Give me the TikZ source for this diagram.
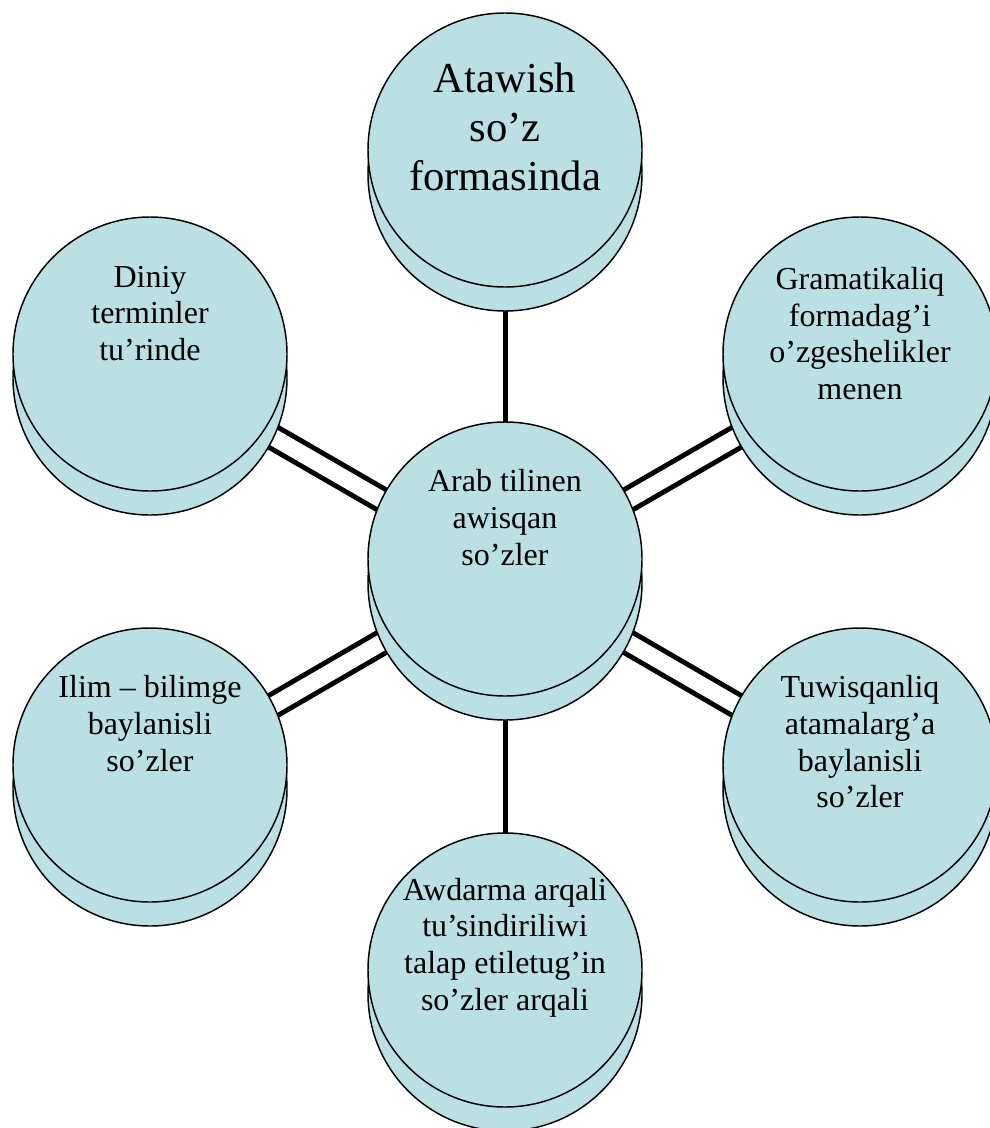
\documentclass[tikz,border=0pt]{standalone}
\usepackage{fontspec}
\setmainfont{Liberation Serif}
\usetikzlibrary{positioning,shadows,backgrounds}
\definecolor{discblue}{RGB}{187,224,227}
\tikzset{
  disc/.style={circle, draw, line width=1.1pt, fill=discblue, minimum size=205.5pt, inner sep=0pt,
    copy shadow={shadow xshift=0pt, shadow yshift=-18pt, draw, fill=discblue, line width=1.1pt}},
  disctext/.style={align=center, inner sep=0pt, font=\fontsize{24}{27.5}\selectfont},
  link/.style={line width=3.75pt},
  twolink/.style={double, double distance=12.5pt, line width=3.75pt}
}
\begin{document}
\begin{tikzpicture}[x=0.75pt, y=-0.75pt]
	\useasboundingbox (0,0) rectangle (989,1128);

	\node[disc] (atawish) at (505, 150) {};
	\node[disc] (diniy) at (150, 354) {};
	\node[disc] (gram) at (860, 354) {};
	\node[disc] (arab) at (505, 559) {};
	\node[disc] (ilim) at (150, 765) {};
	\node[disc] (tuwis) at (860, 765) {};
	\node[disc] (awdarma) at (505, 970) {};

	\node[disctext, font=\fontsize{32}{36.8}\selectfont, below=38pt of atawish.north] (atawishT) {Atawish\\so’z\\formasinda};
	\node[disctext, below=37pt of diniy.north] (diniyT) {Diniy\\terminler\\tu’rinde};
	\node[disctext, below=38pt of gram.north] (gramT) {Gramatikaliq\\formadag’i\\o’zgeshelikler\\menen};
	\node[disctext, below=36pt of arab.north] (arabT) {Arab tilinen\\awisqan\\so’zler};
	\node[disctext, below=36pt of ilim.north] (ilimT) {Ilim – bilimge\\baylanisli\\so’zler};
	\node[disctext, below=36pt of tuwis.north] (tuwisT) {Tuwisqanliq\\atamalarg’a\\baylanisli\\so’zler};
	\node[disctext, below=34pt of awdarma.north] (awdarmaT) {Awdarma arqali\\tu’sindiriliwi\\talap etiletug’in\\so’zler arqali};

	\begin{scope}[on background layer]
		\path ([yshift=-9pt]arab.center) edge[link] ([yshift=-9pt]atawish.center)
		([yshift=-9pt]arab.center) edge[link] ([yshift=-9pt]awdarma.center)
		([yshift=-9pt]arab.center) edge[twolink] ([yshift=-9pt]diniy.center)
		([yshift=-9pt]arab.center) edge[twolink] ([yshift=-9pt]gram.center)
		([yshift=-9pt]arab.center) edge[twolink] ([yshift=-9pt]ilim.center)
		([yshift=-9pt]arab.center) edge[twolink] ([yshift=-9pt]tuwis.center);
	\end{scope}
\end{tikzpicture}
\end{document}
